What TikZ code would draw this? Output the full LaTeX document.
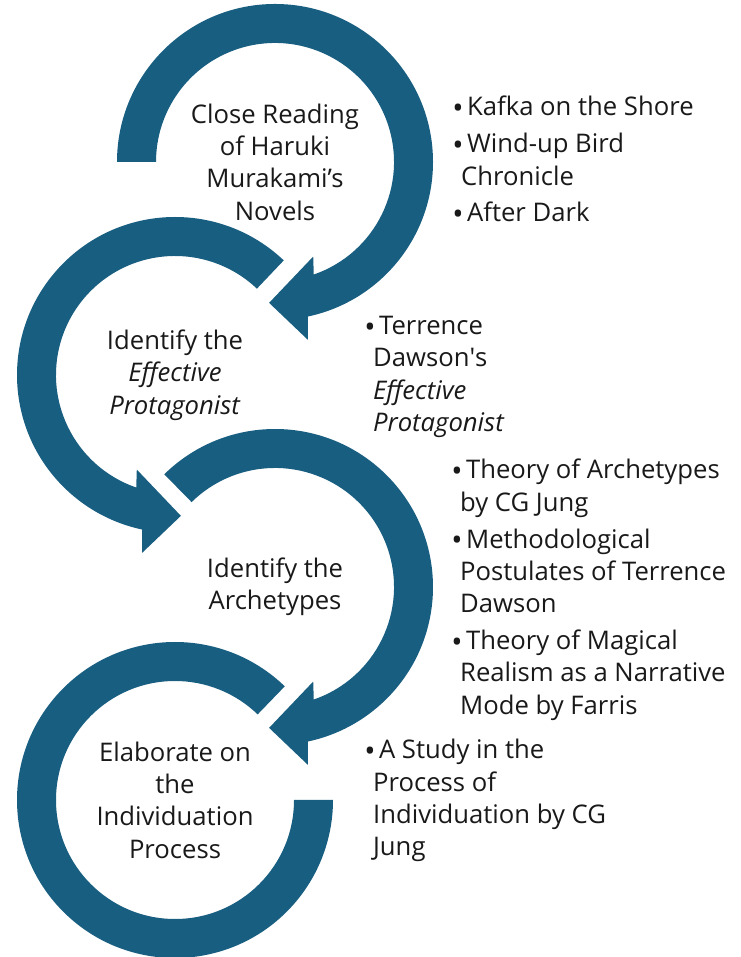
\documentclass[tikz,border=0pt]{standalone}
\usepackage{fontspec}
\setmainfont{Open Sans}
\usepackage{tikz}
\definecolor{arcblue}{RGB}{24,94,128}
\newcommand{\hang}{\hspace*{5pt}}
\newcommand{\bul}{\raisebox{-1.6pt}{\fontsize{17}{18}\selectfont•}\hspace{2pt}}
\begin{document}
\begin{tikzpicture}[x=0.2mm, y=0.2mm,
  ring/.style={fill=arcblue},
  stagetext/.style={align=center, inner sep=0pt, text=black!90, font=\fontsize{14.6}{18.4}\selectfont},
  notetext/.style={align=left, anchor=north west, inner sep=0pt, text=black!90, font=\fontsize{14.6}{18.4}\selectfont}]
\useasboundingbox (0,0) rectangle (740,957);
\coordinate (c1) at (275,795);
\coordinate (c2) at (175,582);
\coordinate (c3) at (275,370);
\coordinate (c4) at (175,157);
\fill[ring, shift={(c1)}] (180:119) -- (180:158) arc[start angle=180, end angle=-78, radius=158]
  -- (-79.5:181) -- (-92.4:141) -- (-68:102) -- (-71:119) arc[start angle=-71, end angle=180, radius=119] -- cycle;
\fill[ring, shift={(c2)}] (46.5:119) -- (46.5:158) arc[start angle=46.5, end angle=258, radius=158]
  -- (259.5:181) -- (272.4:141) -- (248:102) -- (251:119) arc[start angle=251, end angle=46.5, radius=119] -- cycle;
\fill[ring, shift={(c3)}] (134.5:119) -- (134.5:158) arc[start angle=134.5, end angle=-78, radius=158]
  -- (-79.5:181) -- (-92.4:141) -- (-68:102) -- (-71:119) arc[start angle=-71, end angle=134.5, radius=119] -- cycle;
\fill[ring, shift={(c4)}] (46:119) -- (46:158) arc[start angle=46, end angle=360, radius=158]
  -- (0:119) arc[start angle=360, end angle=46, radius=119] -- cycle;
\node[stagetext] (reading) at (c1) {Close Reading\\of Haruki\\Murakami’s\\Novels};
\node[stagetext] (protagonist) at (c2) {Identify the\\\textit{Effective}\\\textit{Protagonist}};
\node[stagetext] (archetypes) at (c3) {Identify the\\Archetypes};
\node[stagetext] (individuation) at (c4) {Elaborate on\\the\\Individuation\\Process};
\node[notetext] (novels) at (452,861) {\bul Kafka on the Shore\\[2.5pt]\bul Wind-up Bird\\\hang Chronicle\\[2.5pt]\bul After Dark};
\node[notetext] (dawson) at (364,641) {\bul Terrence\\\hang Dawson\textquotesingle s\\\hang\textit{Effective}\\\hang\textit{Protagonist}};
\node[notetext] (theories) at (451,498) {\bul Theory of Archetypes\\\hang by CG Jung\\[2.5pt]\bul Methodological\\\hang Postulates of Terrence\\\hang Dawson\\[2.5pt]\bul Theory of Magical\\\hang Realism as a Narrative\\\hang Mode by Farris};
\node[notetext] (study) at (364,218) {\bul A Study in the\\\hang Process of\\\hang Individuation by CG\\\hang Jung};
\end{tikzpicture}
\end{document}
